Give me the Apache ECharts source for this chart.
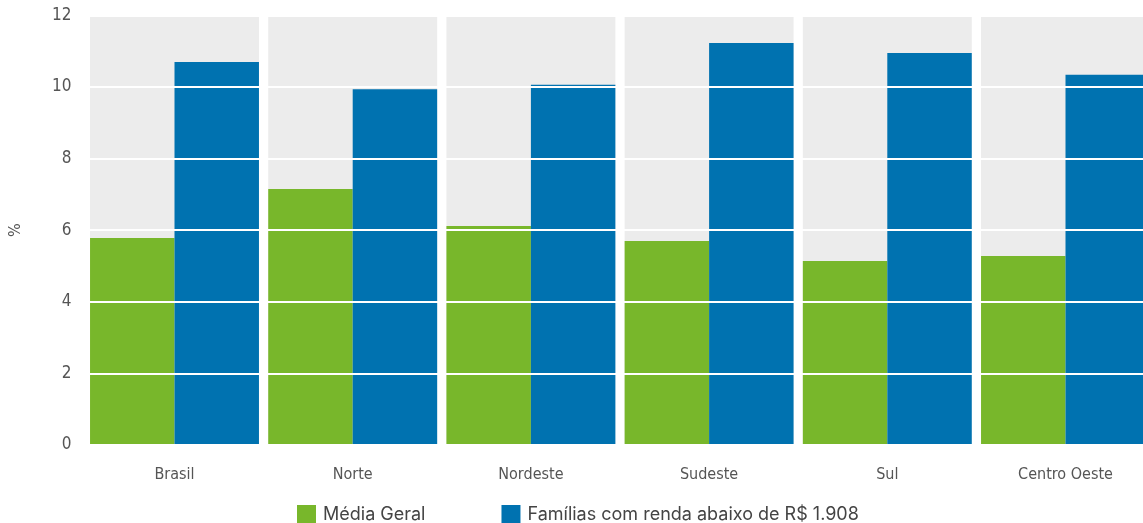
<!DOCTYPE html>
<html>
<head>
<meta charset="utf-8">
<script src="https://cdn.jsdelivr.net/npm/echarts@6/dist/echarts.min.js"></script>
<style>
  html, body { margin: 0; padding: 0; background: #fff; }
  #chart { width: 1143px; height: 523px; }
</style>
</head>
<body>
<div id="chart"></div>
<script>
// Regions and the two compared series (percent)
const regions = ['Brasil', 'Norte', 'Nordeste', 'Sudeste', 'Sul', 'Centro Oeste'];
const mediaGeral = [5.78, 7.15, 6.12, 5.70, 5.14, 5.28];
const familiasBaixaRenda = [10.70, 9.94, 10.06, 11.23, 10.95, 10.34];
const seriesNames = ['Média Geral', 'Famílias com renda abaixo de R$ 1.908'];
const yTicks = [0, 2, 4, 6, 8, 10, 12];

const GREEN = '#78b72b';
const BLUE = '#0072b0';
const PANEL = '#ececec';
const tickFont = '"Liberation Sans Narrow", "DejaVu Sans Condensed", "Roboto", sans-serif';
const yMax = yTicks[yTicks.length - 1];
const catGap = '5.2%';

const chart = echarts.init(document.getElementById('chart'), null, { renderer: 'canvas' });

const barBase = {
  type: 'bar',
  barGap: '0%',
  barCategoryGap: catGap,
  z: 2
};

chart.setOption({
  animation: false,
  backgroundColor: '#ffffff',
  grid: {
    left: 85.4, right: -11.6, top: 15.4, bottom: 78,
    containLabel: false,
    outerBoundsMode: 'none'
  },
  xAxis: [
    {
      type: 'category',
      data: regions,
      axisLine: { show: false },
      axisTick: { show: false },
      axisLabel: { color: '#555', fontSize: 16, fontFamily: tickFont, margin: 22 }
    },
    {
      // companion axis for the grey panel behind each region
      type: 'category',
      data: regions,
      show: false
    }
  ],
  yAxis: {
    type: 'value',
    min: yTicks[0],
    max: yMax,
    interval: 2,
    z: 10,
    name: '%',
    nameLocation: 'middle',
    nameGap: 62,
    nameRotate: 90,
    nameTextStyle: { color: '#555', fontSize: 16, fontFamily: tickFont },
    axisLine: { show: false },
    axisTick: { show: false },
    axisLabel: { color: '#555', fontSize: 17, fontFamily: tickFont, margin: 14 },
    splitLine: {
      show: true,
      lineStyle: { color: '#ffffff', width: 2 }
    }
  },
  legend: {
    left: 292,
    top: 500,
    itemWidth: 19,
    itemHeight: 19,
    itemGap: 76,
    icon: 'rect',
    textStyle: { color: '#444', fontSize: 18, fontFamily: 'Inter, "Noto Sans", sans-serif', padding: [0, 0, 0, 2] },
    data: seriesNames
  },
  series: [
    {
      type: 'bar',
      name: 'panel',
      xAxisIndex: 1,
      barCategoryGap: catGap,
      data: regions.map(() => yMax),
      itemStyle: { color: PANEL },
      silent: true,
      z: 1
    },
    Object.assign({}, barBase, { name: seriesNames[0], data: mediaGeral, itemStyle: { color: GREEN } }),
    Object.assign({}, barBase, { name: seriesNames[1], data: familiasBaixaRenda, itemStyle: { color: BLUE } })
  ]
});
</script>
</body>
</html>
